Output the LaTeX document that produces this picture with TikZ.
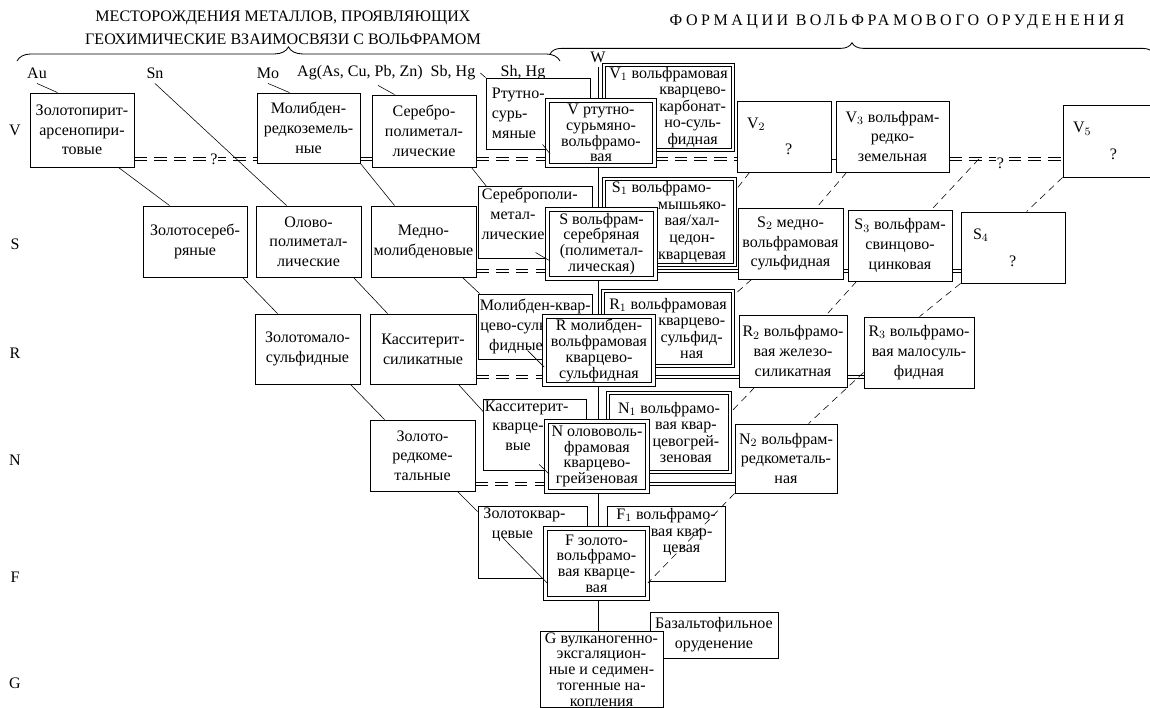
\documentclass[tikz,border=0pt]{standalone}
\usepackage{fontspec}
\setmainfont{Liberation Serif}
\newfontfamily\spacedfont[LetterSpace=22]{Liberation Serif}
\usetikzlibrary{calc,decorations.pathreplacing}
\pgfdeclarelayer{bg}
\pgfsetlayers{bg,main}

\begin{document}
\begin{tikzpicture}[x=0.025cm, y=-0.025cm, line width=0.6pt,
    every node/.style={font=\fontsize{11.4}{14}\selectfont},
    box/.style={rectangle, draw, fill=white, inner sep=1pt, align=center},
    core/.style={box, double, double distance=1.7pt, font=\fontsize{11.4}{11.2}\selectfont},
    sat/.style={box, double, double distance=1.1pt, font=\fontsize{11.4}{11.8}\selectfont},
    band/.style={double, double distance=1.8pt},
    gap/.style={band, dash pattern=on 9pt off 5pt},
    tie/.style={dash pattern=on 5pt off 3.5pt},
    q/.style={fill=white, inner sep=0.5pt}]
    \useasboundingbox (0,0) rectangle (1150,708);

    \node (hl) [align=center, font=\fontsize{11.4}{16.3}\selectfont] at (283,28) {МЕСТОРОЖДЕНИЯ МЕТАЛЛОВ, ПРОЯВЛЯЮЩИХ\\ГЕОХИМИЧЕСКИЕ ВЗАИМОСВЯЗИ С ВОЛЬФРАМОМ};
    \node (hr) [font=\fontsize{11.4}{14}\spacedfont] at (897,22) {ФОРМАЦИИ ВОЛЬФРАМОВОГО ОРУДЕНЕНИЯ};
    \draw [decorate, decoration={brace, amplitude=10pt}] (17,61) -- (560,61);
    \draw [decorate, decoration={brace, amplitude=8pt}] (550,54) -- (1154,54);

    \node (Au) at (37,73) {Au};
    \node (Sn) at (155,73) {Sn};
    \node (Mo) at (268,73) {Mo};
    \node (Ag) at (360,73) {Ag(As, Cu, Pb, Zn)};
    \node (SbHg) at (453,73) {Sb, Hg};
    \node (ShHg) at (523,73) {Sh, Hg};
    \node (W) at (598,57) {W};

    \node (lV) at (15,130) {V};
    \node (lS) at (15,244) {S};
    \node (lR) at (15,353) {R};
    \node (lN) at (15,460) {N};
    \node (lF) at (15,577) {F};
    \node (lG) at (15,683) {G};

    \coordinate (rowV) at (0,159);
    \coordinate (rowS) at (0,271);
    \coordinate (rowR) at (0,377);
    \coordinate (rowN) at (0,484);

    \node (V1) [sat, align=right, minimum width=3.225cm, minimum height=2.125cm] at (668.5,107.5) {V$_1$ вольфрамовая\\\makebox[1.75cm]{кварцево-}\\\makebox[1.75cm]{карбонат-}\\\makebox[1.75cm]{но-суль-}\\\makebox[1.75cm]{фидная}};
    \node (S1) [sat, align=right, minimum width=3.275cm, minimum height=2.15cm] at (669.5,222) {S$_1$ вольфрамо-\hspace*{0.4cm}\\\makebox[1.75cm]{мышьяко-}\\\makebox[1.75cm]{вая/хал-}\\\makebox[1.75cm]{цедон-}\\\makebox[1.75cm]{кварцевая}};
    \node (R1) [sat, align=right, minimum width=3.25cm, minimum height=1.875cm] at (668,328.5) {R$_1$ вольфрамовая\\\makebox[1.75cm]{кварцево-}\\\makebox[1.75cm]{сульфид-}\\\makebox[1.75cm]{ная}};
    \node (N1) [sat, align=right, minimum width=3.05cm, minimum height=1.975cm] at (669,432.5) {N$_1$ вольфрамо-\\\makebox[1.7cm]{вая квар-}\\\makebox[1.7cm]{цевогрей-}\\\makebox[1.7cm]{зеновая}};
    \node (F1) [box, align=right, font=\fontsize{11.4}{11.8}\selectfont, minimum width=2.95cm, minimum height=1.875cm] at (666,543.5) {F$_1$ вольфрамо-\\\makebox[1.7cm]{вая квар-}\\\makebox[1.7cm]{цевая\rule[-0.64cm]{0pt}{0pt}}};

    \node (V2) [box, align=left, text width=1.85cm, minimum width=2.35cm, minimum height=1.775cm] at (784,136.5) {V$_2$\\[5pt]\hspace*{0.95cm}?};
    \node (V3) [box, minimum width=2.825cm, minimum height=1.775cm] at (892.5,136.5) {V$_3$ вольфрам-\\редко-\\земельная};
    \node (V5) [box, align=left, text width=1.75cm, minimum width=2.25cm, minimum height=1.8cm] at (1108,141) {V$_5$\\[5pt]\hspace*{0.92cm}?};
    \node (S2) [box, minimum width=2.625cm, minimum height=1.775cm] at (790.5,243.5) {S$_2$ медно-\\вольфрамовая\\сульфидная};
    \node (S3) [box, minimum width=2.6cm, minimum height=1.775cm] at (900,245.5) {S$_3$ вольфрам-\\свинцово-\\цинковая};
    \node (S4) [box, align=left, text width=2cm, minimum width=2.6cm, minimum height=1.775cm] at (1013,247.5) {S$_4$\\[5pt]\hspace*{0.9cm}?};
    \node (R2) [box, minimum width=2.7cm, minimum height=1.8cm] at (793,351) {R$_2$ вольфрамо-\\вая железо-\\силикатная};
    \node (R3) [box, minimum width=2.75cm, minimum height=1.775cm] at (919,352.5) {R$_3$ вольфрамо-\\вая малосуль-\\фидная};
    \node (N2) [box, minimum width=2.55cm, minimum height=1.725cm] at (786,458.5) {N$_2$ вольфрам-\\редкометаль-\\ная};
    \node (bz) [box, minimum width=3.2cm, minimum height=1.15cm] at (714,635) {Базальтофильное\\оруденение};

    \node (zp) [box, minimum width=2.6cm, minimum height=1.85cm] at (82,130) {Золотопирит-\\арсенопири-\\товые};
    \node (mr) [box, minimum width=2.575cm, minimum height=1.75cm] at (308.5,128) {Молибден-\\редкоземель-\\ные};
    \node (sp) [box, minimum width=2.6cm, minimum height=1.8cm] at (424,131) {Серебро-\\полиметал-\\лические};
    \node (rs) [box, align=left, text width=2.3cm, minimum width=2.6cm, minimum height=1.775cm] at (538,113.5) {Ртутно-\\сурь-\\мяные};
    \node (zs) [box, minimum width=2.6cm, minimum height=1.775cm] at (195,241.5) {Золотосереб-\\ряные};
    \node (op) [box, minimum width=2.625cm, minimum height=1.775cm] at (308.5,241.5) {Олово-\\полиметал-\\лические};
    \node (mm) [box, minimum width=2.625cm, minimum height=1.775cm] at (423.5,241.5) {Медно-\\молибденовые};
    \node (spm) [box, align=left, text width=2.65cm, minimum width=2.85cm, minimum height=1.775cm] at (535,222.5) {\mbox{Сереброполи-}\\\makebox[1.55cm]{метал-}\\\makebox[1.55cm]{лические\rule[-0.44cm]{0pt}{0pt}}};
    \node (zms) [box, minimum width=2.625cm, minimum height=1.75cm] at (307.5,349) {Золотомало-\\сульфидные};
    \node (ks) [box, minimum width=2.65cm, minimum height=1.75cm] at (423,349) {Касситерит-\\силикатные};
    \node (mks) [box, align=left, text width=2.75cm, minimum width=2.85cm, minimum height=1.625cm] at (535,326.5) {\mbox{Молибден-квар-}\\\makebox[1.8cm]{цево-суль-}\\\makebox[1.8cm]{фидные}};
    \node (zr) [box, minimum width=2.625cm, minimum height=1.775cm] at (422.5,455.5) {Золото-\\редкоме-\\тальные};
    \node (kk) [box, align=left, text width=2.5cm, minimum width=2.55cm, minimum height=1.775cm] at (535,434.5) {\mbox{Касситерит-}\\\makebox[1.65cm]{кварце-}\\\makebox[1.65cm]{вые\rule[-0.44cm]{0pt}{0pt}}};
    \node (zk) [box, align=left, text width=2.45cm, minimum width=2.725cm, minimum height=1.8cm] at (532.5,542) {\mbox{Золотоквар-}\\\makebox[1.45cm]{цевые\rule[-0.94cm]{0pt}{0pt}}};

    \node (V) [core, minimum width=2.675cm, minimum height=1.625cm] at (601,133) {V ртутно-\\сурьмяно-\\вольфрамо-\\вая};
    \node (S) [core, minimum width=2.7cm, minimum height=1.725cm] at (601.5,244) {S вольфрам-\\серебряная\\(полиметал-\\лическая)};
    \node (R) [core, minimum width=2.725cm, minimum height=1.7cm] at (599,350.5) {R молибден-\\вольфрамовая\\кварцево-\\сульфидная};
    \node (N) [core, minimum width=2.525cm, minimum height=1.75cm] at (597,456.5) {N олововоль-\\фрамовая\\кварцево-\\грейзеновая};
    \node (F) [core, minimum width=2.55cm, minimum height=1.75cm] at (596.5,563.5) {F золото-\\вольфрамо-\\вая кварце-\\вая};
    \node (G) [box, font=\fontsize{11.4}{11.2}\selectfont, minimum width=3.075cm, minimum height=1.875cm] at (601.5,669.5) {G вулканогенно-\\эксгаляцион-\\ные и седимен-\\тогенные на-\\копления};

    \begin{pgfonlayer}{bg}
        \draw (W) -- (W |- G.north);

        \draw [gap] (zp.east |- rowV) -- node[q, pos=0.65] (q1) {?} (mr.west |- rowV);
        \draw [band] (mr.east |- rowV) -- (sp.west |- rowV);
        \draw [gap] (sp.east |- rowV) -- (V.west |- rowV);
        \draw [gap] (V.east |- rowV) -- (V2.west |- rowV);
        \draw (V2.east |- rowV) -- (V3.west |- rowV);
        \draw [gap] (V3.east |- rowV) -- node[q, pos=0.45, yshift=-3pt] (q2) {?} coordinate[pos=0.26] (vq) (V5.west |- rowV);

        \draw [gap] (mm.east |- rowS) -- (S.west |- rowS);
        \draw [band] (S.east |- rowS) -- (S2.west |- rowS);
        \draw [band] (S2.east |- rowS) -- (S3.west |- rowS);
        \draw [band] (S3.east |- rowS) -- (S4.west |- rowS);

        \draw [gap] (ks.east |- rowR) -- (R.west |- rowR);
        \draw [band] (R.east |- rowR) -- (R2.west |- rowR);
        \draw [band] (R2.east |- rowR) -- (R3.west |- rowR);

        \draw [gap] (zr.east |- rowN) -- (N.west |- rowN);
        \draw [band] (N.east |- rowN) -- (N2.west |- rowN);

        \draw (Au.south) -- ($(zp.north west)+(28,0)$);
        \draw (Sn.south) -- ($(op.north west)+(31,0)$);
        \draw (Mo.south) -- ($(mr.north west)+(33,0)$);
        \draw ($(Ag.south)+(18,0)$) -- ($(sp.north west)+(23,0)$);
        \draw (SbHg.east) -- (rs.north west);
        \draw ($(zp.south east)+(-16,0)$) -- ($(zs.north west)+(27,0)$);
        \draw (mr.south east) -- ($(mm.north west)+(24,0)$);
        \draw ($(sp.south east)+(-5,0)$) -- ($(spm.north west)+(9,0)$);
        \draw ($(zs.south east)+(-5,0)$) -- ($(zms.north west)+(23,0)$);
        \draw ($(op.south east)+(-8,0)$) -- ($(ks.north west)+(18,0)$);
        \draw ($(mm.south east)+(-14,0)$) -- ($(mks.north west)+(2,0)$);
        \draw ($(zms.south east)+(-10,0)$) -- ($(zr.north west)+(15,0)$);
        \draw ($(ks.south east)+(-18,0)$) -- ($(kk.north west)+(0,13)$);
        \draw ($(zr.south east)+(-18,0)$) -- ($(zk.north west)+(0,6)$);

        \draw [tie] ($(V2.south west)+(13,0)$) -- ($(S1.north east)+(0,12)$);
        \draw [tie] ($(V3.south west)+(11,0)$) -- ($(S2.north west)+(79,0)$);
        \draw [tie] (vq) -- ($(S3.north west)+(84,0)$);
        \draw [tie] (V5.south west) -- ($(S4.north west)+(66,0)$);
        \draw [tie] ($(S2.south west)+(14,0)$) -- ($(R1.north east)+(0,5)$);
        \draw [tie] ($(S3.south west)+(9,0)$) -- ($(R2.north west)+(88,0)$);
        \draw [tie] (S4.south west) -- ($(R3.north west)+(56,0)$);
        \draw [tie] ($(R2.south west)+(16,0)$) -- ($(N1.north east)+(0,20)$);
        \draw [tie] ($(R3.south west)+(0,-16)$) -- ($(N2.north west)+(74,0)$);
    \end{pgfonlayer}

    \draw ($(rs.south west)+(57,-5)$) -- ($(V.south west)+(3,-12)$);
    \draw ($(spm.south west)+(58,-6)$) -- ($(S.south west)+(3,-18)$);
    \draw ($(mks.south west)+(50,-9)$) -- ($(R.south west)+(0,-18)$);
    \draw ($(kk.south west)+(56,-6)$) -- ($(N.south west)+(3,-18)$);
    \draw ($(zk.north west)+(25,32)$) -- ($(F.south west)+(2,-16)$);
    \draw [tie] (N2.south west) -- ($(F.south east)+(0,-16)$);
\end{tikzpicture}
\end{document}
